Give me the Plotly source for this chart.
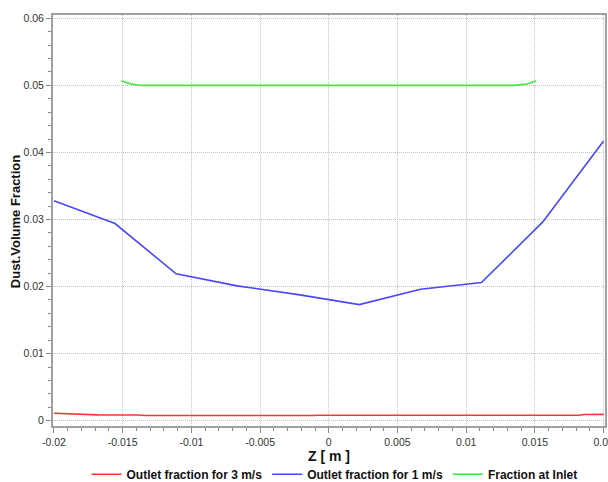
import plotly.graph_objects as go

# Outlet fraction, 3 m/s inlet velocity
red_z = [-0.02, -0.0192, -0.0188, -0.0172, -0.0168, -0.0138, -0.0134,
         -0.0012, -0.0008, 0.0182, 0.0186, 0.02]
red_v = [0.0011, 0.00105, 0.00098, 0.00092, 0.00086, 0.00083, 0.00076,
         0.00076, 0.0008, 0.0008, 0.00092, 0.00094]

# Outlet fraction, 1 m/s inlet velocity
blue_z = [-0.02, -0.01556, -0.01111, -0.00667, -0.00222,
          0.00222, 0.00667, 0.01111, 0.01556, 0.02]
blue_v = [0.0328, 0.0294, 0.0219, 0.0201, 0.0188,
          0.0173, 0.0196, 0.0206, 0.0296, 0.0417]

# Dust fraction at the inlet
green_z = [-0.0151, -0.0147, -0.0144, -0.0139, -0.0135,
           0.0135, 0.0139, 0.0144, 0.0147, 0.0151]
green_v = [0.0507, 0.0504, 0.0502, 0.05005, 0.05,
           0.05, 0.05005, 0.0502, 0.0504, 0.0507]

x_ticks = [-0.02, -0.015, -0.01, -0.005, 0, 0.005, 0.01, 0.015, 0.02]
x_labels = ["-0.02", "-0.015", "-0.01", "-0.005", "0", "0.005", "0.01", "0.015", "0.02"]
y_ticks = [0, 0.01, 0.02, 0.03, 0.04, 0.05, 0.06]
y_labels = ["0", "0.01", "0.02", "0.03", "0.04", "0.05", "0.06"]

FONT = "Liberation Sans Narrow, Liberation Sans, Arial, sans-serif"

fig = go.Figure()
fig.add_trace(go.Scatter(x=red_z, y=red_v, mode="lines",
                         name="<b>Outlet fraction for 3 m/s</b>",
                         line=dict(color="#ff3333", width=1.6)))
fig.add_trace(go.Scatter(x=blue_z, y=blue_v, mode="lines",
                         name="<b>Outlet fraction for 1 m/s</b>",
                         line=dict(color="#4848f8", width=1.6)))
fig.add_trace(go.Scatter(x=green_z, y=green_v, mode="lines",
                         name="<b>Fraction at Inlet</b>",
                         line=dict(color="#3ae83a", width=1.6)))

axis_common = dict(
    showline=True, linecolor="#a0a0a0", linewidth=2, mirror=True,
    showgrid=True, gridcolor="#c4c4c4", griddash="1px,1px", gridwidth=1,
    zeroline=False, ticks="outside", ticklen=5, tickwidth=1, tickcolor="#888",
    tickfont=dict(family=FONT, size=10.5, color="#333"),
    ticklabeloverflow="allow", automargin=False,
)

fig.update_layout(
    width=608, height=482,
    margin=dict(l=53, r=3, t=15, b=56, autoexpand=False),
    paper_bgcolor="white", plot_bgcolor="white",
    font=dict(family=FONT, color="#111"),
    xaxis=dict(
        range=[-0.02007, 0.0201], tickvals=x_ticks, ticktext=x_labels,
        minor=dict(dtick=0.001, ticks="outside", ticklen=3, tickcolor="#888", showgrid=False),
        **axis_common,
    ),
    yaxis=dict(
        range=[-0.0008, 0.0605], tickvals=y_ticks, ticktext=y_labels,
        minor=dict(dtick=0.002, ticks="outside", ticklen=3, tickcolor="#888", showgrid=False),
        **axis_common,
    ),
    legend=dict(
        orientation="h", x=0.51, xanchor="center",
        yref="container", y=0.016, yanchor="middle",
        font=dict(family=FONT, size=12, color="#111"),
        itemwidth=30, bgcolor="rgba(0,0,0,0)",
    ),
    showlegend=True,
    annotations=[
        dict(text="<b>Z [ m ]</b>", xref="paper", yref="paper",
             x=0.5, y=-0.073, xanchor="center", yanchor="middle",
             showarrow=False, font=dict(family=FONT, size=14, color="#111")),
        dict(text="<b>Dust.Volume Fraction</b>", xref="paper", yref="paper",
             x=-0.068, y=0.497, xanchor="center", yanchor="middle", textangle=-90,
             showarrow=False, font=dict(family=FONT, size=13, color="#111")),
    ],
)

fig.write_html("out.html")
